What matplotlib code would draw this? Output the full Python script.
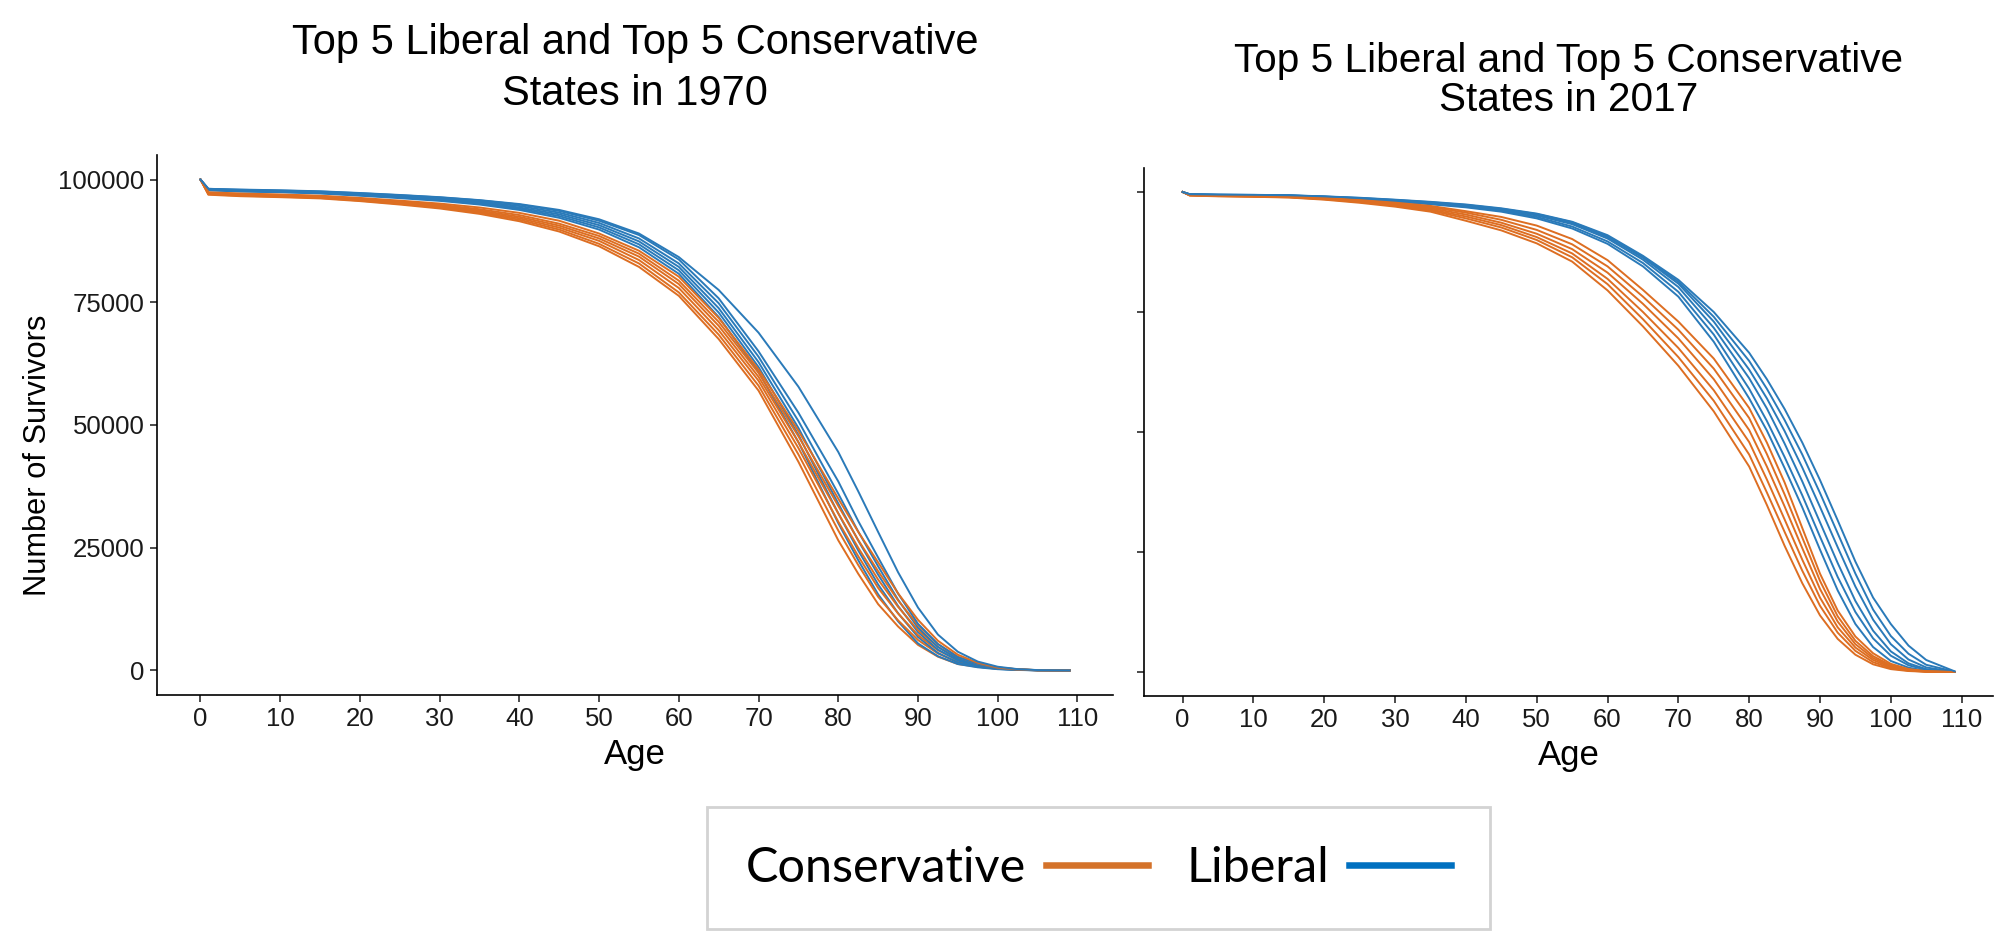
import matplotlib
matplotlib.use('Agg')
import matplotlib.pyplot as plt
from matplotlib.lines import Line2D

ages = [0, 1, 5, 10, 15, 20, 25, 30, 35, 40, 45, 50, 55, 60, 65, 70, 75,
        80, 82.5, 85, 87.5, 90, 92.5, 95, 97.5, 100, 102.5, 105, 109]

# 1970 - conservative states
cons_1970 = [
    [100000, 96900, 96600, 96400, 96150, 95600, 94900, 94100, 93000, 91500, 89400, 86400, 82200, 76300, 67500, 57000, 42500,
     26500, 19700, 13500, 8950, 5200, 2800, 1300, 720, 350, 130, 30, 0],
    [100000, 97000, 96700, 96500, 96250, 95700, 95050, 94300, 93250, 91800, 89800, 86900, 82900, 77000, 68400, 58000, 44000,
     28500, 21480, 15000, 10200, 6200, 3450, 1700, 890, 400, 150, 40, 0],
    [100000, 97100, 96800, 96600, 96350, 95850, 95200, 94450, 93450, 92100, 90200, 87500, 83600, 77900, 69300, 59000, 45300,
     30300, 23280, 16800, 11600, 7200, 4100, 2100, 1060, 450, 170, 40, 0],
    [100000, 97200, 96900, 96700, 96450, 95950, 95350, 94650, 93700, 92400, 90600, 88000, 84300, 78700, 70200, 59800, 46500,
     32000, 25000, 18500, 12950, 8200, 4780, 2500, 1230, 500, 190, 50, 0],
    [100000, 97300, 97050, 96850, 96600, 96100, 95500, 94850, 93950, 92750, 91000, 88500, 84900, 79400, 71000, 60600, 47700,
     33500, 26580, 20200, 14270, 9200, 5350, 2800, 1370, 550, 210, 50, 0],
    [100000, 97400, 97150, 96950, 96700, 96250, 95700, 95100, 94300, 93200, 91600, 89000, 85500, 80200, 71800, 61300, 48800,
     35000, 28240, 22000, 15700, 10300, 6040, 3200, 1540, 600, 230, 60, 0],
]
# 1970 - liberal states
lib_1970 = [
    [100000, 97800, 97550, 97400, 97150, 96700, 96200, 95650, 94900, 93800, 92200, 89800, 86200, 80800, 72000, 60800, 46500,
     30000, 22460, 15500, 10000, 5500, 2890, 1300, 630, 250, 90, 20, 0],
    [100000, 97850, 97620, 97470, 97250, 96820, 96350, 95800, 95100, 94050, 92550, 90250, 86800, 81500, 72900, 61800, 48000,
     32000, 24460, 17500, 11650, 6800, 3570, 1600, 770, 300, 110, 25, 0],
    [100000, 97920, 97700, 97550, 97330, 96930, 96480, 95970, 95300, 94300, 92900, 90700, 87400, 82200, 73800, 62800, 49400,
     34000, 26460, 19500, 13120, 7800, 4240, 2000, 940, 350, 130, 30, 0],
    [100000, 98000, 97800, 97650, 97450, 97050, 96630, 96150, 95500, 94600, 93250, 91150, 88000, 82900, 74800, 63900, 50800,
     36000, 28300, 21200, 14400, 8700, 4780, 2300, 1120, 450, 170, 40, 0],
    [100000, 98100, 97900, 97750, 97550, 97200, 96800, 96350, 95750, 94900, 93600, 91600, 88700, 83700, 75800, 65000, 52500,
     38500, 30440, 23000, 15660, 9500, 5380, 2700, 1390, 600, 230, 60, 0],
    [100000, 98100, 97950, 97800, 97600, 97250, 96850, 96400, 95800, 95000, 93800, 91900, 89000, 84200, 77500, 68800, 57800,
     44500, 36500, 28200, 20000, 12800, 7300, 3800, 1800, 750, 260, 70, 5],
]
# 2017 - conservative states
cons_2017 = [
    [100000, 99250, 99100, 99000, 98850, 98400, 97750, 96950, 95900, 94000, 92000, 89300, 85500, 79500, 72000, 63800, 54300,
     42800, 34800, 26300, 18500, 11800, 6900, 3600, 1600, 600, 200, 50, 0],
    [100000, 99300, 99150, 99050, 98900, 98500, 97900, 97150, 96150, 94500, 92600, 90000, 86400, 80800, 73500, 65600, 56500,
     45300, 37400, 29200, 21100, 13800, 8200, 4400, 2050, 800, 280, 70, 0],
    [100000, 99320, 99180, 99080, 98950, 98550, 97980, 97300, 96350, 94900, 93100, 90600, 87200, 81900, 75000, 67500, 58700,
     47900, 40100, 31800, 23400, 15500, 9300, 5100, 2500, 1000, 350, 90, 0],
    [100000, 99350, 99220, 99120, 99000, 98620, 98080, 97450, 96600, 95300, 93600, 91300, 88100, 83200, 76700, 69500, 61000,
     50400, 42800, 34500, 25800, 17300, 10500, 5800, 2900, 1200, 420, 110, 0],
    [100000, 99380, 99260, 99160, 99050, 98700, 98200, 97600, 96850, 95700, 94200, 92100, 89100, 84500, 78200, 71300, 63200,
     52900, 45400, 37000, 28000, 19000, 11600, 6500, 3300, 1400, 500, 130, 0],
    [100000, 99420, 99300, 99200, 99100, 98780, 98320, 97780, 97100, 96000, 94800, 93000, 90200, 85800, 79600, 73000, 65300,
     55000, 47800, 39500, 30000, 20500, 12800, 7400, 3900, 1700, 620, 160, 0],
]
# 2017 - liberal states
lib_2017 = [
    [100000, 99450, 99350, 99300, 99200, 98900, 98500, 98000, 97450, 96800, 95900, 94500, 92400, 89200, 84500, 78200, 68800,
     57000, 50300, 42500, 34300, 25500, 17000, 10000, 5200, 2300, 900, 250, 0],
    [100000, 99470, 99370, 99320, 99230, 98950, 98570, 98100, 97550, 96950, 96100, 94800, 92800, 89700, 85200, 79200, 70300,
     59000, 52300, 44800, 36800, 28200, 19800, 12500, 7000, 3400, 1400, 450, 10],
    [100000, 99500, 99400, 99350, 99260, 99000, 98650, 98200, 97700, 97100, 96300, 95100, 93300, 90300, 85900, 80200, 71700,
     61200, 54900, 47600, 39700, 31200, 22700, 14800, 8600, 4300, 1800, 600, 20],
    [100000, 99510, 99420, 99370, 99280, 99030, 98700, 98270, 97800, 97200, 96400, 95300, 93500, 90600, 86300, 80900, 73000,
     63000, 57000, 50200, 42600, 34400, 26000, 17800, 10900, 5800, 2600, 950, 40],
    [100000, 99530, 99440, 99390, 99300, 99060, 98750, 98340, 97880, 97300, 96500, 95400, 93700, 90800, 86500, 81300, 74000,
     64800, 59000, 52500, 45300, 37300, 28900, 20500, 13000, 7500, 3800, 1500, 80],
    [100000, 99550, 99460, 99410, 99320, 99090, 98800, 98400, 97950, 97400, 96600, 95500, 93800, 91000, 86700, 81700, 75000,
     66500, 61000, 54800, 47800, 40000, 31600, 23000, 15500, 10000, 5500, 2500, 150],
]

x_ticks = list(range(0, 111, 10))
y_ticks = [0, 25000, 50000, 75000, 100000]

orange = '#DD6E22'
blue = '#2A7AB9'
leg_orange = '#D4722A'
leg_blue = '#0070C0'

plt.rcParams['font.family'] = ['Liberation Sans', 'DejaVu Sans']

fig = plt.figure(figsize=(20.1, 9.38), dpi=100)
ax1 = fig.add_axes([0.0781, 0.2591, 0.4756, 0.5757])
ax2 = fig.add_axes([0.5692, 0.2580, 0.4224, 0.5629])


def survival_panel(ax, cons, lib, title, title_size, title_pad, spacing):
    # alternate the groups so neither colour sits fully on top
    for c, l in zip(cons, lib):
        ax.plot(ages, c, color=orange, lw=1.4)
        ax.plot(ages, l, color=blue, lw=1.4)
    ax.set_xlim(-5.45, 114.45)
    ax.set_ylim(-5000, 105000)
    ax.set_xticks(x_ticks)
    ax.set_yticks(y_ticks)
    ax.spines['top'].set_visible(False)
    ax.spines['right'].set_visible(False)
    for s in ['left', 'bottom']:
        ax.spines[s].set_linewidth(1.2)
    ax.tick_params(length=5, width=1.1, labelsize=18.5, pad=4, colors='#1a1a1a')
    ax.set_xlabel('Age', fontsize=25, labelpad=5)
    ax.set_title(title, fontsize=title_size, pad=title_pad, linespacing=spacing)


survival_panel(ax1, cons_1970, lib_1970,
               'Top 5 Liberal and Top 5 Conservative\nStates in 1970', 30, 36, 1.35)
survival_panel(ax2, cons_2017, lib_2017,
               'Top 5 Liberal and Top 5 Conservative\nStates in 2017', 29.2, 41, 1.05)
ax1.set_ylabel('Number of Survivors', fontsize=22.2)
ax1.yaxis.set_label_coords(-0.109, 0.444)
ax2.tick_params(axis='y', labelleft=False)

handles = [Line2D([], [], color=leg_orange, lw=4.7),
           Line2D([], [], color=leg_blue, lw=4.7)]
leg = fig.legend(handles, ['Conservative', 'Liberal'], ncol=2, markerfirst=False,
                 loc='center', bbox_to_anchor=(0.5466, 0.0745), frameon=True,
                 fancybox=False, edgecolor='#c8c8c8', prop={'family': 'Lato', 'size': 35},
                 handlelength=2.1, handletextpad=0.4, columnspacing=0.8, borderpad=0.8)
leg.get_frame().set_linewidth(2)

fig.savefig('out.png', dpi=100)
